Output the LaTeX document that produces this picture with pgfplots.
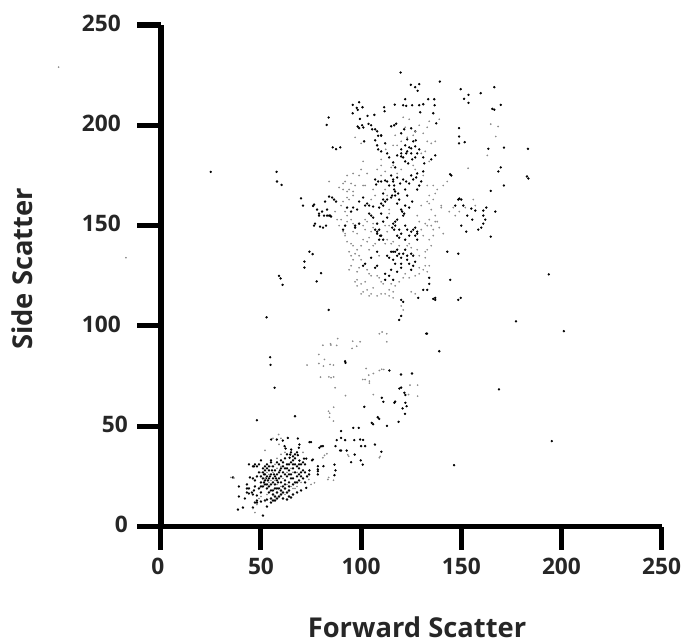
\documentclass[border=0pt]{standalone}
\usepackage{pgfplots}
\pgfplotsset{compat=1.18}
\usepackage{fontspec}
\setmainfont{Open Sans}
\definecolor{faint}{gray}{0.55}
\begin{document}
\begin{tikzpicture}[x=0.75pt,y=0.75pt]
\useasboundingbox (0,0) rectangle (685,641);
\begin{axis}[
  at={(120.6pt,85.8pt)}, anchor=south west,
  scale only axis, width=375.6pt, height=376.2pt,
  xmin=0,xmax=250,ymin=0,ymax=250,
  axis lines=left, axis line style={line width=4.2pt,-,line cap=butt},
  xtick={0,50,...,250}, ytick={0,50,...,250},
  xticklabels={{0\kern4.5pt},50,100,150,200,250},
  yticklabels={0,50,{100\kern5.25pt},{150\kern5.25pt},{200\kern5.25pt},{250\kern5.25pt}},
  tick style={line width=3.8pt,black},
  major tick length=17.5pt, tick align=outside, tick pos=lower,
  minor tick num=0, clip=false,
  tick label style={font=\fontsize{17}{18}\selectfont\bfseries\color{black!85}},
  xticklabel style={yshift=-2.2pt},
  yticklabel style={xshift=-3.75pt,yshift=1.5pt},
]
% dark events
\addplot[only marks,mark=*,mark size=0.68pt,black] coordinates {
(119.7,226.3)(124.8,220.2)(129,220.5)(128.2,217.2)(139.3,221.8)(127,219)
(149.7,218)(153.6,215.2)(151.4,213.2)(153.6,211.2)(159.7,216)(166.5,219)(165.5,208.2)(166.5,207.8)(169.7,210.2)
(95.8,210.2)(99,211.5)(98.3,207.7)(97.8,208.7)(95.8,206)(100.7,209)(103.2,204.7)(106.6,205.2)(99.4,203.2)(98.3,199.4)(99,198.6)(101.1,198.9)(100.5,200)(103.7,200.7)(83.8,203.9)(82.8,200.2)
(111.5,209)(111.7,207)(116.8,210.3)(122,213)(121,210)(122.5,209.7)(125.5,210)(129,210)(131,210.5)(133.5,213)(136.5,213)(136.7,210)(136,206)(129.5,206.5)
(105.5,198)(108,197)(110,195)(108.5,194.8)(110,194.8)(115,199.5)(116.5,200)(117.5,200.8)(121.5,198)(120,196)(125,198.5)(127,197)(137.5,201)(123,193)(127.3,192.5)
(85.8,189)(87.5,188.1)(89.6,189)(101.5,192)(107,192.5)(108,190)(108.5,188)(110,187)(112,191)(120,188)(122,190)(121,184)(122.5,186)(123,187)(126,192)(127,189.5)(125,188.5)(127,184)(125.5,183)(123.5,181)(113,186)(114,184)(117,179)(118,185)(120,184.5)(116,181.5)(129,188)
(148.9,198.6)(148.9,194.4)(148.9,191)(151.7,191.6)(171.3,188.9)(183.3,188.3)(182.8,174.5)(183.5,173.5)(169.7,179)(168.5,177)(171.3,170)(164.7,167.3)(144.4,175.6)(145,175)(163.5,188.3)
(128,176)(131,177)(127.5,174)(126,173)(130,172)(124,171)(129,170)(122,168)(118,174)(116,173)(115,175)(113,172)(110,172)(107,173)(108.5,172)(112,172.5)(107.5,170.5)(116.5,170)(119.5,171)(131.5,181)(135,183)(131,184)(137,185)(128,168)(122.5,172)(125,175)(123,165)
(76,159.8)(76.5,160.5)(71,160)(82,162)(84,164.5)(85.5,164)(86.5,163)(87.5,162)(78,158)(80.5,157)(83,158)(79,156)(79,155)(81.5,155)(83,155)(84,155)(84.5,155)(85,154.5)(77,151)(76.5,150)(79.5,149.5)(82.5,150)(81,149)
(99,162)(101,164)(102,160)(103,161)(104,160)(106,159.5)(109,159)(110,161)(111,163)(112,162)(111,166)(115,164)(118.5,166)(116.5,168)(117,167)(115.5,165)(118,161)(120,158)(122,160)(124,159)(120.5,157)(121.5,156)(125.5,162)
(98,158)(96,159)(93,159)(95,157)(105,155)(104,156)(106,154)(108,151)(111,152)(113,154)(110,156)(121,155)(122,150)(116,151)(116.5,148)(115.5,149)(117,152)(123,148)(119,148)(120,146)(128,146)(126,148)(128,147)(127,145)(128,143)(124,145)(118,145)(122,143)
(92,150)(91,148)(97,150)(99,151)(97,149)(107,148)(108,146)(109.5,145)(109,143)(108,147)(111,143)(108,137)(117,137)(118,135)(116,133)(113,135)(115,137)(120,134)(121,136)(123,135)(125,136)(123,133)(124,131)(126,130)(127,132)(125,128)(120,129)(117,131)(115,128)(108,130)(107,129)(102,131)(101,130)(105,134)(112,126)(114,125)(112,123)(116,123)(118,127)
(148.5,163)(149,163.5)(150,163)(147,160)(151,160)(155,158.5)(157,157.5)(155.5,153)(153,155)(161,157.5)(162.5,159)(161,155)(162,153)(161,151)(160,149)(158.5,148)(152.5,147)(164.7,144.5)(167,157)(150,150)
(143,137)(148.5,136)(144.5,123)(134,124)(134,121)(131,118)(133,118)(137,114)(137,113)(136,113.5)(149.7,114)(148.5,113)(128.5,114)(120,113)(121,112)(120,105)(119,103)
(74.2,137)(75.8,135.8)(71.7,132.1)(71.7,129.1)(80,126.3)(77.8,122.2)(83.8,108)
(24.9,176.8)(57.8,176.8)(60.3,170.3)(58,172)(59.8,123.7)(60.8,120.5)(59,125)(70,163.6)(52.8,104.3)(193.7,125.7)(201.2,97.4)(177.3,102.3)(168.8,68.4)(195.2,42.6)(146.4,30.6)(139,87.4)(132.5,96.2)
(54.6,84.4)(54.8,80.6)(56.8,69.2)(48,53)(67,55)(132.9,96.2)(92,82.4)(92.2,81.6)
(110.3,64.2)(111.1,62.2)(116.6,61.7)(117,62.3)(119.1,68.8)(120,69.3)(121.6,66.7)(122.1,65.6)(122.1,61.7)(122.7,60)(120.7,58.9)(121.9,56.2)(118.7,52.2)(112.9,50.2)(108.3,54.5)(109,53.7)(105.3,51.7)(106,51)(101.6,59.7)(119.9,75.8)(125.4,76.3)(114.1,77.8)
(90,47.6)(96.1,49.2)(98.8,49.2)(87.8,43.1)(90,44.2)(92,43.1)(96.6,43.1)(99.5,43.4)(101,43.2)(87.2,40.1)(90,37.9)(89.5,37.9)(92.8,37.9)(100,40.1)(102,40.1)(106.9,40.9)(110.1,37.3)(95,32.1)(99.8,33)(100.8,30.9)(96.8,35.9)
(80.9,40.1)(79.2,39.3)(80,40)(81.2,30.1)(86.7,30.9)(87.2,28)(86.7,25.6)(78.4,30.1)(78.4,28.5)(78.4,27.6)(78.4,26)(74.2,28)(75.9,33.4)(72.6,19.3)
(55.1,43.4)(57.9,43.4)(60.9,42.9)(63.4,44.2)(68.4,43.9)(69.2,40.9)(68.9,39.3)(74.2,42.1)(75,42.1)(61.8,40.1)(62.3,38.9)(65.1,38.4)(64.6,35.9)(65,37)(64.3,34.3)(68.4,35.6)(72.6,33.9)(71.5,33.9)(69.2,32.9)(75.5,33)
(36,24.5)(39,20)(44,19)(46,16)(39,15)(44,16.5)(42,14)(38.5,8.5)(46,9.5)(41,9.5)(51,5.5)
(43,21)(43,19)(43,17)(47,23)(44.5,24.5)(46,24)(45.5,17)(48,15.5)(50,17)(48,13)(46.5,18)(50,20)(51.5,22)
(46,30)(50,33)(49,31)(51,29)(51,27)(52,30)(53,31)(55,33)(54,28)(53,25)(52,23)(50,25)(51,24)(52,26)(54,24)(55,26)(57,28)(56,30)(58,32)(56,22)(55,21)(54,20)(53,19)(56,24)(57,25)(58,23)(57,21)(59,27)(60,29)(59,31)(60,33)(61,32)(62,34)(63,31)(62,29)(64,31)(65,32)(66,33)(67,31)(66,29)(67,27)(65,26)(63,25)(61,27)(64,28)(68,30)(69,29)(70,27)(70,25)(68,25)(69,23)(67,22)(66,24)(64,22)(62,23)(60,22)(61,20)(60,18)(62,19)(58,19)(58,17)(59,15)(57,15)(56,16)(55,14)(53,13.5)(52,13)(50,12.5)(48,12)(47,12)(57,13)(53,10)(55,12)(60,16)(61,14)(64,15)(65,14.5)(63,13.5)(68,17)(66,16)(70,18)(72,22)(71,24)(73,25)(72,27)(74,26)(70,31)(72,31)(71,32)(66,35)(67,36)(68,37)(63,36)
(47,31)(48,30)(46.5,30)(44,31)(63,17)(64,18)(60,25)(59,24)(58,26)(52,28)(53,29)(50,22)(51,20)(53,21)(56,18)(57,19)(54,17)(55,18)
(51.5,26)(52.5,24)(53.5,23)(54.5,25)(55.5,28)(56.5,26)(57.5,24)(58.5,22)(59.5,28)(61,30)(62,26)(63,29)(64,26)(65,24)(66,31)(67,34)(69,31)(69,26)(71,28)(54,30)(55,32)(52,21)(49,27)(48,25)(49,19)(47,20)(59,19)(61,17)(58,14)(56,13)(62,21)(64,20)(66,21)(68,22)
(116,137)(118,138)(119,136)(114,134)(120,131)(122,138)(126,135)(127,149)(125,147)(119,144)(117,150)(118,153)(109,148)(110,145)(111,160)(113,163)(117,165)(119,163)(116,172)(114,170)(121,173)(120,186)(124,189)(125,186)(128,186)(122,182)(105,200)(107,198)
};
% faint events
\addplot[only marks,mark=*,mark size=0.42pt,faint] coordinates {
(-51,229)(-17.4,134)
(164.7,200.6)(168.4,199.4)(167.2,194.4)(153.4,178.6)(163,185)(134,202)(139,203)(133,199)(129,200)(127,197)(124,203)(121,204)(122,199)(117,195)(120,192)(116,190)(112.3,188)(118,190)(123,194)(126,195)(131,196)(133,192)(135,191)(137,192)(132,187)(130,186)(120,178)(118,176)(112,177)(110,180)(115,179)(126,180)(127,178)(131,175)(134,182)(136,170)(133,170)(134,165)(116,180)(110,175)(112,168)(113,165)(108,178)(110,183)(103,176)(102,170)(100,178)(101,182)(100,191)(97,194)(84,172)(96,176)(99,175)(93,175)(95,171)(94,168)(91,171)(92,172)(97,170)(91,168)(89,169)(96,167)(93,167)(101,170)(106,168)(107,165)(105,163)(114,158)(114,156)(112,150)(130,160)(133,162)(135,158)(136,163)(137,166)(134,161)(128,155)(129,152)(132,151)(133,150)(137,152)(134,153)(135,150)(136,148)(130,148)(131,145)(136,145)(134,143)(135,140)(133,138)
(93,155)(92,157)(95,153)(96,151)(93,152)(90,153)(91,147)(92,146)(96,147)(98,146)(101,150)(102,148)(105,147)(104,144)(103,142)(101,143)(100,140)(98,138)(97,136)(95,141)(93,142)(94,137)(96,140)(99,135)(104,138)(106,140)(107,141)(109,135)(112,141)(113,143)(115,141)(116,142)(119,140)(123,140)(125,139)(124,141)(128,138)(113,147)(114,150)(106,149)(103,152)(102,153)(106,151)
(95,135)(96,133)(95,130)(94,128)(100,133)(99,129)(98,127)(103,128)(104,126)(105,125)(108,125)(109,124)(110,122)(111,121)(114,118)(117,120)(115,121)(119,122)(121,124)(122,126)(124,124)(127,125)(129,126)(129,129)(131,128)(133,127)(132,130)(134,130)(129,135)(132,134)(132,137)(103,118)(101,117)(100,116)(105,116)(104,115)(106,119)(108,115)(110,116)(112,116)(114,115)(116,114)(116,117)(125,117)(127,116)(120,110)(121,108)(97,122)(98,120)(100,121)(102,122)(98,123)
(91,162)(93,164)(94,163)(96,165)(90,160)(87,157)(88,153)(89,150)(92,145)(146,159)(144,157)(149,157)(152,159)(147,155)(156,163)(157,160)(138,168)(141,170)(143,172)(140,160)(140,159)(137,155)(138,152)(139,149)(141,146)
(78.9,85.8)(81.7,83.3)(78.9,81.3)(81.2,80)(84.5,80.8)(86.2,80.5)(73,80.5)(80.9,90.4)(84.7,91.1)(84.9,90.5)(87.8,90.3)(88.3,93.7)(95.8,92.4)(99.5,92.1)(95.5,88.8)(97.8,89.9)(109.1,96.1)(112.8,96.1)(112.8,92.1)(110.5,97)
(79.7,74.5)(83.9,74.6)(85,74.2)(86.3,74.6)(87,69.2)(92.2,65.3)(83.7,57.5)(84.3,56.5)(86.3,59.5)(84.2,54.5)(86.2,52.6)
(100.8,73.3)(102,73.3)(104.1,72.5)(104.1,71.5)(102.5,78.8)(103.8,75.5)(106.1,76.3)(109.1,77.8)(110.3,78.4)(111.3,78.3)(124.4,70.5)(128.2,70.5)(128.2,65)(123.7,65.8)(106.1,65.8)(93.8,35.1)(93.3,35.8)(109.1,34.3)(109.5,35)(80.9,34.3)(82.9,36.3)(81.7,35.5)(83.4,23.5)(83.8,24.5)(86.2,23.1)(76.7,21.8)(73.9,23.5)(75,21)
(58.8,45.9)(60,44)(56,44)(52,38)(59,41)(71,37)
(35,24.5)(36.5,24.2)(47,7)(46,9)(48,11)(52,12.5)(49,14)(50,15)(53,16)(50,27)(52,24)(54,22)(55,23)(57,23)(58,29)(60,30)(63,27)(65,29)(66,27)(68,27)(61,24)(63,21)(65,20)(66,19)(68,20)(70,22)(67,19)(62,16)(60,20)(58,21)(56,27)(54,26)(53,27)(55,30)(57,31)(58,34)(60,36)(62,37)
};
\end{axis}
\node[font=\fontsize{20.5}{22}\selectfont\bfseries,text=black!85] at (417,14) {Forward Scatter};
\node[font=\fontsize{20.5}{22}\selectfont\bfseries,text=black!85,rotate=90] at (22,372) {Side Scatter};
\end{tikzpicture}
\end{document}
